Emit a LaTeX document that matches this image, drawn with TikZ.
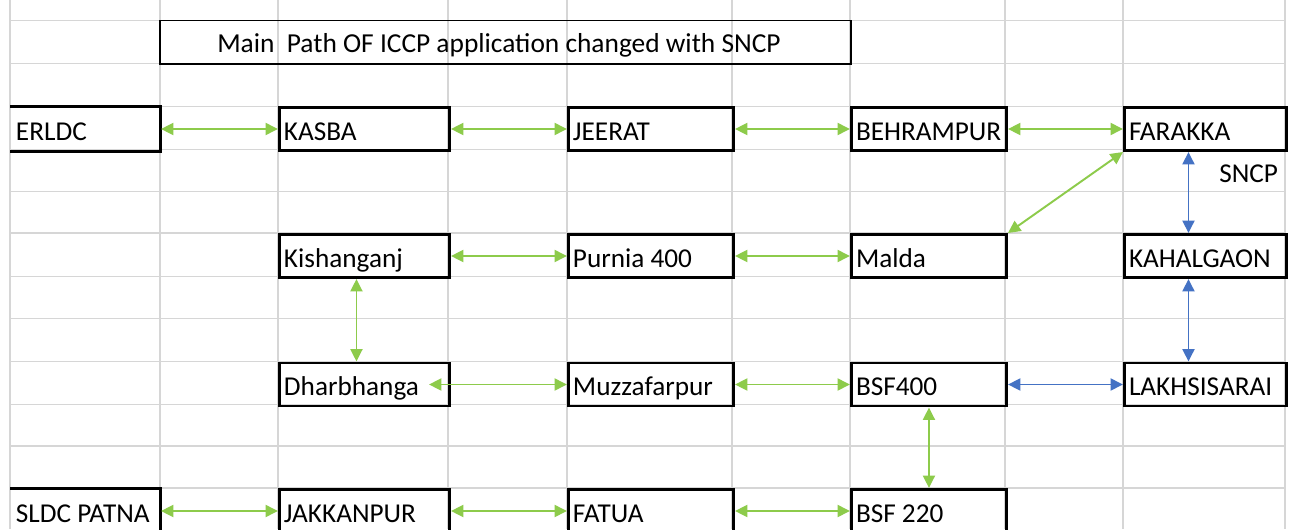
\documentclass[tikz,border=0pt]{standalone}
\usepackage{fontspec}
\setmainfont{Carlito}
\usetikzlibrary{arrows.meta}
\definecolor{gridgray}{RGB}{214,214,214}
\definecolor{arrgreen}{RGB}{141,203,75}
\definecolor{arrblue}{RGB}{68,114,196}
\tikzset{
  gridline/.style={draw=gridgray, line width=0.03cm},
  cell/.style={draw=black, line width=1.7pt, anchor=north west, inner xsep=0.09cm,
    align=flush left, minimum height=0.86cm, text height=13pt, text depth=0pt,
    font=\fontsize{15.5pt}{18pt}\selectfont},
  cA/.style={cell, text width=2.78cm},
  cB/.style={cell, text width=3.22cm},
  cC/.style={cell, text width=3.12cm},
  cD/.style={cell, text width=2.92cm},
  cE/.style={cell, text width=3.06cm},
  titlebox/.style={draw=black, line width=1.1pt, minimum width=13.82cm, minimum height=0.87cm,
    text height=12.2pt, text depth=0pt, font=\fontsize{15.6pt}{18pt}\selectfont},
  lbl/.style={font=\fontsize{15.5pt}{18pt}\selectfont, inner sep=0pt, anchor=base west},
  ga/.style={draw=arrgreen, line width=1.1pt, {Triangle[length=0.25cm,width=0.24cm]}-{Triangle[length=0.25cm,width=0.24cm]}},
  ba/.style={draw=arrblue, line width=1.1pt, {Triangle[length=0.25cm,width=0.24cm]}-{Triangle[length=0.25cm,width=0.24cm]}},
  openside/.style={draw=black, line width=1.7pt}
}
\begin{document}
\begin{tikzpicture}[x=0.02cm,y=-0.02cm]
\useasboundingbox (0,0) rectangle (1292,529);
\fill[white] (0,0) rectangle (1292,529);
% spreadsheet grid
\foreach \x in {10,160,278,448,567,732,850,1005,1123,1285}
  \draw[gridline] (\x,0) -- (\x,529);
\foreach \y in {20.5,63.5,106.5,149.5,191.5,233,276.5,318.5,361.5,404.5,446,488}
  \draw[gridline] (10,\y) -- (1285,\y);
% title
\node[titlebox] (title) at (505.5,42.25) {Main\ \ Path OF ICCP application changed with SNCP\hspace*{0.26cm}};
% row 1
\node[cA, draw=none, xshift=-0.04cm] (erldc) at (12,106) {ERLDC};
\node[cB] (kasba) at (278,106) {KASBA};
\node[cC] (jeerat) at (567,106) {JEERAT};
\node[cD] (behr) at (850,106) {BEHRAMPUR};
\node[cE] (farakka) at (1123,106) {FARAKKA};
% row 2
\node[cB] (kish) at (278,233) {Kishanganj};
\node[cC] (purnia) at (567,233) {Purnia 400};
\node[cD] (malda) at (850,233) {Malda};
\node[cE] (kahal) at (1123,233) {KAHALGAON};
% row 3
\node[cB] (dharb) at (278,361.5) {Dharbhanga};
\node[cC] (muzz) at (567,361.5) {Muzzafarpur};
\node[cD] (bsf400) at (850,361.5) {BSF400};
\node[cE] (lakh) at (1123,361.5) {LAKHSISARAI};
% row 4
\node[cA, draw=none, xshift=-0.04cm] (sldc) at (12,488) {SLDC PATNA};
\node[cB] (jakk) at (278,488) {JAKKANPUR};
\node[cC] (fatua) at (567,488) {FATUA};
\node[cD] (bsf220) at (850,488) {BSF 220};
% open-left boxes
\draw[openside] (erldc.north west) -- (erldc.north east) -- (erldc.south east) -- (erldc.south west);
\draw[openside] (sldc.south west) -- (sldc.south east) -- (sldc.north east) -- (sldc.north west);
% label
\node[lbl] (sncp) at (1219,182) {SNCP};
% green connectors
\draw[ga] (erldc) -- (kasba);
\draw[ga] (kasba) -- (jeerat);
\draw[ga] (jeerat) -- (behr);
\draw[ga] (behr) -- (farakka);
\draw[ga] (farakka.south west) -- (malda.north east);
\draw[ga] (kish) -- (purnia);
\draw[ga] (purnia) -- (malda);
\draw[ga] ([xshift=-0.16cm]kish.south) -- ([xshift=-0.16cm]dharb.north);
\draw[ga, shorten <=-0.44cm] (dharb) -- (muzz);
\draw[ga] (muzz) -- (bsf400);
\draw[ga] (bsf400) -- (bsf220);
\draw[ga] (sldc) -- (jakk);
\draw[ga] (jakk) -- (fatua);
\draw[ga] (fatua) -- (bsf220);
% blue connectors
\draw[ba] ([xshift=-0.34cm]farakka.south) -- ([xshift=-0.34cm]kahal.north);
\draw[ba] ([xshift=-0.34cm]kahal.south) -- ([xshift=-0.34cm]lakh.north);
\draw[ba] (bsf400) -- (lakh);
\end{tikzpicture}
\end{document}
